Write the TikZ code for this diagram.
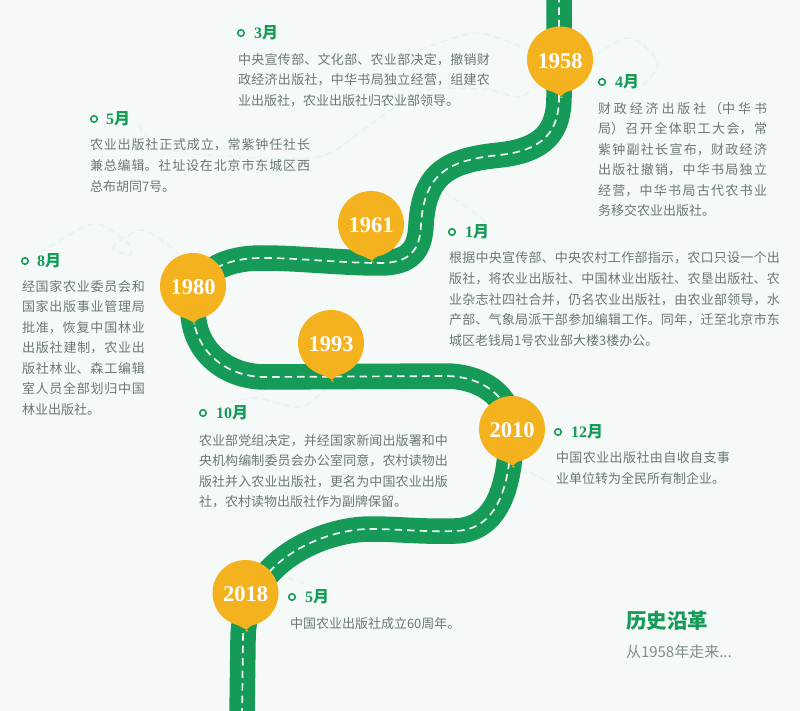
\documentclass[tikz,border=0pt]{standalone}
\usepackage{fontspec}
\setmainfont{Noto Sans CJK SC}
\newfontfamily\yearfont{Liberation Serif}
\XeTeXlinebreaklocale "zh"
\XeTeXlinebreakskip=0pt plus 3pt
\tolerance=9999
\hbadness=10000
\definecolor{pagebg}{HTML}{F5FAF8}
\definecolor{roadgreen}{HTML}{169A58}
\definecolor{pinorange}{HTML}{F4B21F}
\definecolor{bodygray}{HTML}{6B7873}
\definecolor{subgray}{HTML}{7F8F89}
\definecolor{swirl}{HTML}{E4F5EF}
\newcommand{\roadpath}{(559,-5) -- (559,97) .. controls (559,130) and (545,150) .. (500,155) .. controls (450,160) and (424,172) .. (421,225) .. controls (420,250) and (410,263) .. (380,263) .. controls (340,263) and (300,258) .. (262,258) .. controls (220,258) and (193,275) .. (193,310) .. controls (193,350) and (225,377) .. (265,377) -- (445,376) .. controls (480,376) and (511,395) .. (511,430) .. controls (511,480) and (500,530) .. (455,531) .. controls (420,532) and (400,529) .. (370,529) .. controls (325,529) and (243,560) .. (243,640) -- (242,716)}
\newcommand{\pintip}[1]{\fill[pinorange] (#1.center) ++(-13,30) .. controls +(6,2) and +(10,3) .. ++(13,8) .. controls +(3,-5) and +(7,-6) .. ++(13,-8) -- cycle;}
\newcommand{\mnum}[1]{{\yearfont\bfseries #1}}
\begin{document}
\begin{tikzpicture}[x=1pt,y=-1pt,inner sep=0pt,outer sep=0pt,
road/.style={draw=roadgreen,line width=25.5pt,line join=round},
roadline/.style={draw=white!92!roadgreen,line width=1.7pt,dash pattern=on 7.5pt off 5pt},
swirlline/.style={draw=swirl,line width=1.3pt,dash pattern=on 7pt off 4pt},
yearpin/.style={circle,fill=pinorange,minimum size=66pt,text=white,text height=18pt,font=\yearfont\bfseries\fontsize{22.5}{23}\selectfont},
monthdot/.style={draw=roadgreen,circle,line width=1.6pt,minimum size=6.5pt},
monthlabel/.style={anchor=west,text=roadgreen,font=\bfseries\fontsize{16}{16}\selectfont},
bodytext/.style={anchor=north west,text width=#1,align=justify,text=bodygray,font=\fontsize{13}{20.55}\selectfont},
]
\useasboundingbox (0,0) rectangle (800,711);
\fill[pagebg] (0,0) rectangle (800,711);
\draw[swirlline] plot[smooth] coordinates {(138,125) (160,147) (207,155) (317,157) (367,127) (420,92) (483,89) (520,97) (537,82)};
\draw[swirlline] plot[smooth] coordinates {(420,50) (477,33) (528,50)};
\draw[swirlline] plot[smooth] coordinates {(595,55) (630,38) (658,63) (640,88)};
\draw[swirlline] plot[smooth] coordinates {(40,253) (93,224) (128,243) (130,255) (113,247) (143,230) (178,253)};
\draw[swirlline] plot[smooth] coordinates {(412,198) (443,192) (487,223)};
\draw[swirlline] plot[smooth] coordinates {(230,402) (257,398) (300,407) (327,388)};
\draw[swirlline] plot[smooth] coordinates {(520,467) (550,483)};
\draw[swirlline] plot[smooth] coordinates {(277,574) (317,588)};
\draw[road] \roadpath;
\draw[roadline] \roadpath;
\draw (560,59.5) node[yearpin] (y1958) {1958};
\pintip{y1958}
\draw (371,224) node[yearpin] (y1961) {1961};
\pintip{y1961}
\draw (193,286) node[yearpin] (y1980) {1980};
\pintip{y1980}
\draw (331,343) node[yearpin] (y1993) {1993};
\pintip{y1993}
\draw (512,429) node[yearpin] (y2010) {2010};
\pintip{y2010}
\draw (245.5,593) node[yearpin] (y2018) {2018};
\pintip{y2018}
\draw (241,33) node[monthdot] (d3) {};
\draw (254,33) node[monthlabel] (m3) {\mnum{3}月};
\draw (238,53) node[bodytext=252pt] (t3) {中央宣传部、文化部、农业部决定，撤销财\linebreak 政经济出版社，中华书局独立经营，组建农\linebreak 业出版社，农业出版社归农业部领导。};
\draw (602,82) node[monthdot] (d4) {};
\draw (615,82) node[monthlabel] (m4) {\mnum{4}月};
\draw (598,102) node[bodytext=169pt] (t4) {财政经济出版社（中华书\linebreak 局）召开全体职工大会，常\linebreak 紫钟副社长宣布，财政经济\linebreak 出版社撤销，中华书局独立\linebreak 经营，中华书局古代农书业\linebreak 务移交农业出版社。};
\draw (94,119) node[monthdot] (d5) {};
\draw (106,119) node[monthlabel] (m5) {\mnum{5}月};
\draw (90,139) node[bodytext=220pt] (t5) {农业出版社正式成立，常紫钟任社长\linebreak 兼总编辑。社址设在北京市东城区西\linebreak 总布胡同7号。};
\draw (452,232) node[monthdot] (d1) {};
\draw (465,232) node[monthlabel] (m1) {\mnum{1}月};
\draw (449,252) node[bodytext=331pt] (t1) {根据中央宣传部、中央农村工作部指示，农口只设一个出\linebreak 版社，将农业出版社、中国林业出版社、农垦出版社、农\linebreak 业杂志社四社合并，仍名农业出版社，由农业部领导，水\linebreak 产部、气象局派干部参加编辑工作。同年，迁至北京市东\linebreak 城区老钱局1号农业部大楼3楼办公。};
\draw (25,261) node[monthdot] (d8) {};
\draw (37,261) node[monthlabel] (m8) {\mnum{8}月};
\draw (22,280) node[bodytext=123pt] (t8) {经国家农业委员会和\linebreak 国家出版事业管理局\linebreak 批准，恢复中国林业\linebreak 出版社建制，农业出\linebreak 版社林业、森工编辑\linebreak 室人员全部划归中国\linebreak 林业出版社。};
\draw (203,413) node[monthdot] (d10) {};
\draw (216,413) node[monthlabel] (m10) {\mnum{10}月};
\draw (199,434) node[bodytext=249pt] (t10) {农业部党组决定，并经国家新闻出版署和中\linebreak 央机构编制委员会办公室同意，农村读物出\linebreak 版社并入农业出版社，更名为中国农业出版\linebreak 社，农村读物出版社作为副牌保留。};
\draw (558,432) node[monthdot] (d12) {};
\draw (571,432) node[monthlabel] (m12) {\mnum{12}月};
\draw (556,452) node[bodytext=174pt] (t12) {中国农业出版社由自收自支事\linebreak 业单位转为全民所有制企业。};
\draw (292,597) node[monthdot] (d5b) {};
\draw (305,597) node[monthlabel] (m5b) {\mnum{5}月};
\draw (290,617) node[bodytext=180pt] (t5b) {中国农业出版社成立60周年。};
\draw (626,621) node[anchor=west,text=roadgreen,font=\bfseries\fontsize{20.5}{20.5}\selectfont] (title) {历史沿革};
\draw (626,652) node[anchor=west,text=subgray,font=\fontsize{15}{15}\selectfont] (sub) {从1958年走来...};
\end{tikzpicture}
\end{document}
